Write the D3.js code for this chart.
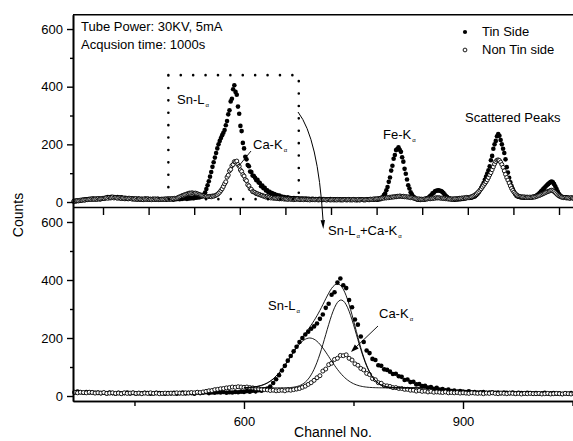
<!DOCTYPE html>
<html>
<head>
<meta charset="utf-8">
<script src="https://cdn.jsdelivr.net/npm/d3@7"></script>
<style>
  body { margin: 0; background: #fff; }
  svg { display: block; font-family: "Liberation Sans", Arial, sans-serif; }
</style>
</head>
<body>
<div id="chart"></div>
<script>
// spectrum, one value every 4 channels from channel 200
let channelStart = 200;
let channelStep = 4;

let tinSide = [
  3,2,4,3,5,4,6,5,7,8,6,9,8,10,9,11,9,12,10,11,9,12,11,10,12,
  12,14,13,15,17,14,16,18,15,17,16,14,17,15,13,16,14,12,15,13,11,14,12,13,11,
  12,10,11,9,12,10,8,11,9,10,12,9,11,8,10,9,11,10,8,9,11,10,9,8,10,
  9,11,8,10,12,9,11,10,8,12,10,11,13,10,12,11,13,12,14,11,13,12,14,13,15,
  14,17,15,18,16,20,18,23,26,33,45,58,72,88,104,122,138,154,170,186,200,212,222,232,240,
  250,266,281,304,318,349,358,391,405,382,372,331,306,264,246,205,186,157,148,128,124,106,104,92,90,
  84,76,77,68,66,55,57,48,49,40,41,34,35,29,31,25,28,22,24,20,22,17,19,15,17,
  15,14,16,13,14,12,13,14,11,12,13,11,12,10,12,11,10,12,9,11,10,9,11,10,9,
  10,8,9,11,8,9,10,8,9,7,9,8,10,8,7,9,8,9,7,8,9,7,8,9,8,
  8,7,9,8,7,8,9,7,8,6,8,7,9,8,7,8,7,9,8,7,8,9,8,9,10,
  9,8,11,10,15,16,24,29,41,52,70,85,109,126,150,163,180,184,190,181,174,155,140,115,98,
  78,58,47,34,27,19,16,11,10,8,9,7,8,9,8,10,12,14,16,21,24,30,32,37,39,
  40,41,39,38,35,31,26,21,17,14,12,10,9,10,8,9,10,9,11,10,12,11,13,12,14,
  15,14,16,15,17,18,20,24,29,34,41,49,57,66,77,88,99,110,124,145,160,185,200,212,228,
  236,230,215,200,185,170,148,121,102,84,68,55,45,36,28,22,19,18,17,16,17,16,15,17,16,
  16,15,17,16,18,19,21,24,27,31,36,40,45,49,54,58,62,66,69,71,68,62,54,45,36,
  28,22,19,17,16,15,16,14,15,13,15,14,13,14,13
];

let nonTinSide = [
  2,3,3,4,5,4,6,7,6,8,7,9,8,9,10,9,11,10,9,11,10,12,10,11,12,
  13,12,14,15,13,16,14,15,17,14,16,15,13,15,14,12,14,13,11,13,12,11,13,12,10,
  11,10,12,9,10,11,9,10,8,11,9,10,11,9,10,8,10,9,11,9,10,8,9,10,9,
  10,9,11,10,9,11,10,12,11,13,12,14,16,18,19,22,23,25,26,28,29,31,30,32,31,
  30,31,29,28,26,25,23,22,21,19,20,18,19,20,18,21,20,22,24,26,30,34,40,46,54,
  63,70,86,93,108,113,126,130,140,139,142,130,124,111,106,95,90,78,74,60,56,46,44,36,35,
  33,29,29,26,26,23,23,20,20,17,19,16,17,14,16,13,14,13,12,14,11,12,11,12,10,
  11,10,9,11,10,9,10,8,10,9,11,9,8,10,9,8,10,9,8,9,7,9,8,9,8,
  8,9,7,8,9,7,8,9,8,7,9,8,7,8,9,7,8,7,9,8,7,8,7,8,9,
  7,8,9,7,8,7,9,8,7,8,9,7,8,9,8,7,8,9,8,9,10,9,10,11,10,
  11,12,11,13,12,14,13,15,14,16,15,17,16,18,17,19,18,20,19,21,20,19,20,18,19,
  17,18,16,15,16,14,13,12,11,10,11,9,10,9,10,11,10,11,12,11,13,12,14,13,15,
  14,15,14,13,14,12,13,11,12,10,11,10,11,10,11,12,11,12,13,12,14,13,15,14,16,
  15,16,17,18,20,22,25,28,32,36,41,46,52,58,64,70,77,85,94,102,112,122,132,140,145,
  146,144,138,130,120,108,96,85,76,66,56,47,40,34,29,25,22,20,19,18,17,18,17,16,17,
  16,17,16,17,18,17,19,20,22,23,25,27,29,31,33,35,37,38,40,41,39,36,32,28,24,
  21,19,17,16,15,16,14,15,14,13,15,14,13,14,13
];

let yTicks = [0, 200, 400, 600];
let yMinorTicks = [100, 300, 500];
let topXTicks = [300, 450, 600, 750, 900, 1050, 1200, 1350, 1500, 1650, 1800];
let bottomXTicks = [600, 900];
let bottomXMinor = [450, 750, 1050];

// gaussian fit of the Sn-La / Ca-Ka overlap
let fitCenters = [690, 733];
let fitHeights = [172, 303];
let fitWidths = [27, 21];
let fitBackground = 28;
let fitRange = [600, 860];

let svgWidth = 573;
let svgHeight = 441;
let left = 73;
let right = 575;

let svg = d3.select("#chart")
    .append("svg")
    .attr("width", svgWidth)
    .attr("height", svgHeight);

let xTop = d3.scaleLinear().domain([201.3, 1852.6]).range([left, right]);
let yTop = d3.scaleLinear().domain([-17.3, 649.7]).range([207, 14.7]);
let xBottom = d3.scaleLinear().domain([365.8, 1053.4]).range([left, right]);
let yBottom = d3.scaleLinear().domain([-17.2, 651.7]).range([401, 207]);

let spectrum = tinSide.map((v, i) => ({
    ch: channelStart + i * channelStep,
    tin: v,
    non: nonTinSide[i]
}));

function drawPoints(x, y) {
    let dom = x.domain();
    let shown = spectrum.filter(d => d.ch >= dom[0] && d.ch <= dom[1]);
    let g = svg.append("g");
    g.selectAll("circle.tin")
        .data(shown)
        .enter()
        .append("circle")
        .classed("tin", true)
        .attr("cx", d => x(d.ch))
        .attr("cy", d => y(d.tin))
        .attr("r", 2.3)
        .attr("fill", "#000");
    g.selectAll("circle.non")
        .data(shown)
        .enter()
        .append("circle")
        .classed("non", true)
        .attr("cx", d => x(d.ch))
        .attr("cy", d => y(d.non))
        .attr("r", 2)
        .attr("fill", "#fff")
        .attr("stroke", "#000")
        .attr("stroke-width", 0.9);
}

function styleAxis(g) {
    g.select(".domain").attr("stroke-width", 1.6);
    g.selectAll(".tick line").attr("stroke-width", 1.4);
    g.selectAll("text").attr("font-size", 13).attr("font-family", "Liberation Sans, Arial, sans-serif").attr("fill", "#000");
}

function yAxes(y) {
    svg.append("g")
        .attr("transform", `translate(${left}, 0)`)
        .call(d3.axisLeft(y).tickValues(yMinorTicks).tickSize(3).tickSizeOuter(0).tickFormat(""))
        .call(styleAxis);
    svg.append("g")
        .attr("transform", `translate(${left}, 0)`)
        .call(d3.axisLeft(y).tickValues(yTicks).tickSize(6).tickSizeOuter(0).tickPadding(4))
        .call(styleAxis);
}

// upper panel: whole spectrum
drawPoints(xTop, yTop);

// lower panel: zoom on the overlap
drawPoints(xBottom, yBottom);

let fitChannels = d3.range(fitRange[0], fitRange[1] + 1, 2);
function gauss(ch, k) {
    return fitHeights[k] * Math.exp(-Math.pow(ch - fitCenters[k], 2) / (2 * fitWidths[k] * fitWidths[k]));
}
let fitLines = [
    fitChannels.map(ch => [ch, fitBackground + gauss(ch, 0)]),
    fitChannels.map(ch => [ch, fitBackground + gauss(ch, 1)]),
    fitChannels.map(ch => [ch, fitBackground + gauss(ch, 0) + gauss(ch, 1)])
];
let fitLine = d3.line()
    .x(d => xBottom(d[0]))
    .y(d => yBottom(d[1]));
svg.append("g")
    .selectAll("path")
    .data(fitLines)
    .enter()
    .append("path")
    .attr("d", fitLine)
    .attr("fill", "none")
    .attr("stroke", "#000")
    .attr("stroke-width", 0.9);

// axes and frame
yAxes(yTop);
yAxes(yBottom);

svg.append("g")
    .attr("transform", "translate(0, 207)")
    .call(d3.axisBottom(xTop).tickValues(topXTicks).tickSize(8).tickSizeOuter(0).tickFormat(""))
    .call(styleAxis);

svg.append("g")
    .attr("transform", "translate(0, 401)")
    .call(d3.axisBottom(xBottom).tickValues(bottomXMinor).tickSize(5).tickSizeOuter(0).tickFormat(""))
    .call(styleAxis);
svg.append("g")
    .attr("transform", "translate(0, 401)")
    .call(d3.axisBottom(xBottom).tickValues(bottomXTicks).tickSize(8).tickSizeOuter(0).tickPadding(8))
    .call(styleAxis);

svg.append("line")
    .attr("x1", left).attr("x2", right)
    .attr("y1", yTop.range()[1]).attr("y2", yTop.range()[1])
    .attr("stroke", "#000").attr("stroke-width", 1.6);

// axis titles
svg.append("text")
    .attr("transform", "translate(23, 215) rotate(-90)")
    .attr("text-anchor", "middle")
    .attr("font-size", 14)
    .text("Counts");

svg.append("text")
    .attr("x", 333)
    .attr("y", 437)
    .attr("text-anchor", "middle")
    .attr("font-size", 14)
    .text("Channel No.");

// labels, a part flagged 1 is the small alpha subscript
function label(x, y, parts) {
    let t = svg.append("text").attr("x", x).attr("y", y).attr("font-size", 13);
    let down = false;
    parts.forEach(p => {
        let s = t.append("tspan").text(p[0]);
        if (p[1]) {
            s.attr("font-size", 6).attr("dy", 2.5).attr("dx", 1);
            down = true;
        } else if (down) {
            s.attr("dy", -2.5);
            down = false;
        }
    });
}

label(81, 30.5, [["Tube Power: 30KV, 5mA"]]);
label(81, 48.5, [["Acqusion time: 1000s"]]);
label(482, 36, [["Tin Side"]]);
label(482, 54, [["Non Tin side"]]);

svg.append("circle").attr("cx", 465).attr("cy", 32).attr("r", 2.1).attr("fill", "#000");
svg.append("circle").attr("cx", 465).attr("cy", 50).attr("r", 1.9)
    .attr("fill", "#fff").attr("stroke", "#000").attr("stroke-width", 0.9);

label(177, 104, [["Sn-L"], ["α", 1]]);
label(253, 149, [["Ca-K"], ["α", 1]]);
label(383, 139, [["Fe-K"], ["α", 1]]);
label(465, 122, [["Scattered Peaks"]]);

label(328, 235, [["Sn-L"], ["α", 1], ["+Ca-K"], ["α", 1]]);
label(268, 310, [["Sn-L"], ["α", 1]]);
label(379, 318, [["Ca-K"], ["α", 1]]);

// dotted box around the overlap in the upper panel
let boxX = [515, 944];
let boxY = [10, 440];
svg.append("rect")
    .attr("x", xTop(boxX[0]))
    .attr("y", yTop(boxY[1]))
    .attr("width", xTop(boxX[1]) - xTop(boxX[0]))
    .attr("height", yTop(boxY[0]) - yTop(boxY[1]))
    .attr("fill", "none")
    .attr("stroke", "#000")
    .attr("stroke-width", 2.6)
    .attr("stroke-linecap", "round")
    .attr("stroke-dasharray", "0,12.4");

// pointer lines
svg.append("line")
    .attr("x1", 251).attr("y1", 151).attr("x2", 238).attr("y2", 167)
    .attr("stroke", "#000").attr("stroke-width", 0.9);

svg.append("path")
    .attr("d", "M298,112 Q318,138 323,220")
    .attr("fill", "none")
    .attr("stroke", "#000")
    .attr("stroke-width", 1);

function arrowHead(x1, y1, x2, y2, len, half) {
    let dx = x2 - x1, dy = y2 - y1;
    let n = Math.sqrt(dx * dx + dy * dy);
    let ux = dx / n, uy = dy / n;
    let bx = x2 - ux * len, by = y2 - uy * len;
    svg.append("path")
        .attr("d", `M${x2},${y2}L${bx - uy * half},${by + ux * half}L${bx + uy * half},${by - ux * half}Z`)
        .attr("fill", "#000");
}
arrowHead(322.5, 215, 323.3, 229, 9, 2.2);

svg.append("line")
    .attr("x1", 378).attr("y1", 326).attr("x2", 355).attr("y2", 348)
    .attr("stroke", "#000").attr("stroke-width", 0.9);
arrowHead(378, 326, 351, 352, 8, 2.8);
</script>
</body>
</html>
